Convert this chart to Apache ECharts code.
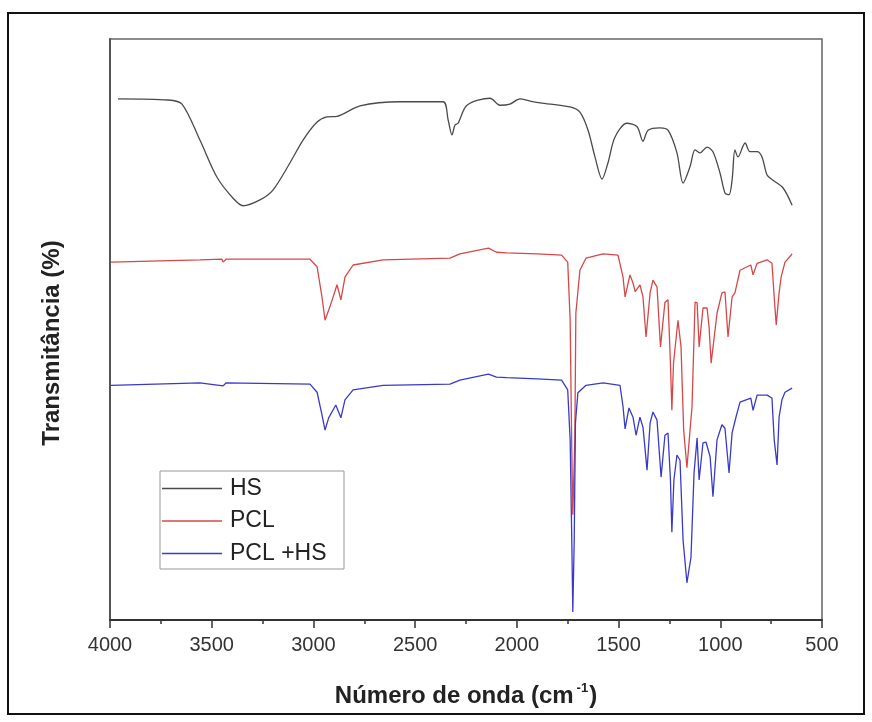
<!DOCTYPE html>
<html>
<head>
<meta charset="utf-8">
<script src="https://cdn.jsdelivr.net/npm/echarts@6/dist/echarts.min.js"></script>
<style>
  html, body { margin: 0; padding: 0; background: #fff; }
  #chart { width: 872px; height: 722px; }
</style>
</head>
<body>
<div id="chart"></div>
<script>
// FTIR spectra, values (arbitrary transmittance scale 0-100)
const hsWavenumber = [3961, 3715, 3646, 3558, 3474, 3395, 3346, 3263, 3199, 3115, 3051, 2982, 2933, 2884, 2771, 2574, 2363, 2338, 2319, 2304, 2289, 2245, 2132, 2083, 2034, 1985, 1935, 1886, 1739, 1690, 1650, 1616, 1581, 1552, 1518, 1459, 1409, 1380, 1355, 1296, 1257, 1213, 1183, 1149, 1124, 1100, 1065, 1036, 1001, 977, 957, 942, 928, 913, 878, 854, 819, 795, 770, 741, 692, 647];
const hsTransmittance = [89.7, 89.5, 88.8, 82.6, 76.2, 72.6, 71.3, 72.3, 74.0, 78.7, 82.6, 85.7, 86.6, 86.7, 88.5, 89.2, 89.2, 86.1, 83.5, 85.2, 85.5, 88.6, 89.8, 88.6, 88.8, 89.7, 89.3, 89.0, 88.3, 87.4, 84.3, 79.7, 75.9, 78.7, 83.1, 85.5, 84.9, 82.4, 84.3, 84.7, 84.3, 80.4, 75.2, 78.0, 80.9, 80.4, 81.4, 80.6, 76.9, 73.5, 73.2, 75.7, 80.9, 79.7, 82.1, 80.6, 80.6, 79.7, 76.6, 75.7, 74.4, 71.4];

const pclWavenumber = [3995, 3558, 3450, 3444, 3430, 3017, 2982, 2958, 2943, 2919, 2884, 2865, 2845, 2805, 2658, 2329, 2280, 2140, 2100, 2050, 1900, 1780, 1750, 1738, 1730, 1725, 1715, 1710, 1690, 1660, 1576, 1503, 1478, 1468, 1444, 1429, 1418, 1395, 1380, 1365, 1345, 1331, 1311, 1294, 1272, 1257, 1245, 1238, 1230, 1208, 1193, 1180, 1164, 1139, 1124, 1114, 1104, 1085, 1065, 1055, 1045, 1016, 992, 977, 962, 942, 928, 903, 850, 839, 819, 770, 746, 735, 725, 711, 701, 682, 647];
const pclTransmittance = [61.6, 62.0, 62.1, 61.6, 62.1, 62.1, 60.8, 55.6, 51.6, 53.9, 57.7, 55.1, 59.0, 61.1, 62.0, 62.3, 63.0, 64.0, 63.3, 63.2, 63.0, 62.8, 61.6, 51.6, 29.3, 18.1, 31.0, 52.8, 60.2, 62.3, 63.0, 62.8, 59.0, 55.6, 59.4, 58.0, 56.5, 57.7, 55.6, 48.7, 56.3, 58.5, 57.3, 47.0, 54.7, 55.1, 44.2, 36.1, 44.2, 51.6, 47.0, 32.7, 26.2, 36.7, 54.7, 54.6, 47.0, 53.7, 53.7, 50.4, 44.2, 52.8, 56.3, 56.5, 48.7, 55.6, 56.3, 60.2, 61.1, 59.4, 61.4, 62.0, 61.4, 55.6, 50.8, 56.3, 59.0, 61.6, 63.0];

const blendWavenumber = [3995, 3558, 3444, 3430, 3017, 2982, 2958, 2943, 2925, 2890, 2865, 2845, 2805, 2658, 2329, 2280, 2140, 2100, 2050, 1900, 1780, 1750, 1738, 1730, 1725, 1718, 1712, 1700, 1660, 1576, 1493, 1478, 1468, 1449, 1429, 1414, 1395, 1380, 1360, 1345, 1331, 1311, 1291, 1272, 1257, 1245, 1238, 1228, 1213, 1198, 1183, 1164, 1144, 1129, 1114, 1104, 1085, 1070, 1050, 1036, 1016, 992, 977, 957, 942, 923, 903, 850, 839, 819, 770, 746, 735, 721, 711, 697, 682, 647];
const blendTransmittance = [40.4, 40.8, 40.3, 40.8, 40.6, 39.2, 35.3, 32.7, 34.8, 37.0, 34.8, 37.9, 39.6, 40.4, 40.6, 41.3, 42.3, 41.8, 41.7, 41.5, 41.3, 39.6, 31.0, 13.8, 1.4, 13.8, 33.9, 39.1, 40.4, 40.8, 40.4, 36.7, 32.9, 36.5, 34.9, 31.8, 34.9, 33.2, 25.8, 33.9, 35.8, 34.4, 24.6, 31.8, 32.2, 24.1, 15.1, 24.1, 28.4, 27.5, 13.8, 6.4, 10.8, 25.3, 31.3, 24.1, 30.5, 30.6, 28.1, 21.2, 31.0, 33.6, 33.0, 25.3, 32.2, 34.9, 37.5, 38.2, 36.1, 38.7, 38.7, 38.2, 31.0, 26.7, 34.9, 37.9, 39.2, 39.9];

const seriesNames = ["HS", "PCL", "PCL +HS"];
const seriesColors = ["#4a4a4a", "#d64848", "#3a3ac8"];

const zip = (xs, ys) => xs.map((x, i) => [x, ys[i]]);
const spectra = [
  zip(hsWavenumber, hsTransmittance),
  zip(pclWavenumber, pclTransmittance),
  zip(blendWavenumber, blendTransmittance),
];

const sans = "'Liberation Sans', Arial, sans-serif";

const option = {
  animation: false,
  grid: {
    left: 110, top: 39, right: 50, bottom: 102,
    show: true, borderColor: "#666", borderWidth: 1.5,
  },
  xAxis: {
    type: "value",
    min: 500, max: 4000, interval: 500,
    inverse: true,
    axisLine: { lineStyle: { color: "#333", width: 2 } },
    axisTick: { inside: false, length: 8, lineStyle: { color: "#333", width: 1.5 } },
    minorTick: { show: true, splitNumber: 2, length: 4, lineStyle: { color: "#333", width: 1.5 } },
    axisLabel: { fontSize: 20, color: "#333", fontFamily: sans, margin: 15, formatter: (v) => String(v) },
    splitLine: { show: false },
    name: "{b|Número de onda (cm}{sup|-1}{b|)}",
    nameLocation: "middle",
    nameGap: 62,
    nameTextStyle: {
      rich: {
        b: { fontSize: 24, fontWeight: "bold", fontFamily: sans, color: "#222", lineHeight: 28 },
        sup: { fontSize: 13, fontWeight: "bold", fontFamily: sans, color: "#222", verticalAlign: "top", padding: [0, 1, 0, 3] },
      },
    },
  },
  yAxis: {
    type: "value",
    min: 0, max: 100,
    axisLine: { show: true, lineStyle: { color: "#555", width: 2 } },
    axisTick: { show: false },
    axisLabel: { show: false },
    splitLine: { show: false },
  },
  legend: {
    orient: "vertical",
    left: 160, top: 471,
    padding: [6, 2, 4, 2],
    icon: "rect",
    itemWidth: 60, itemHeight: 1.5, itemGap: 9.5,
    borderColor: "#999", borderWidth: 1,
    textStyle: { fontSize: 23, fontFamily: sans, color: "#222", width: 112, lineHeight: 23, padding: [0, 0, 0, 3] },
    data: seriesNames,
  },
  graphic: [
    {
      type: "rect",
      shape: { x: 8, y: 13, width: 856, height: 701 },
      style: { fill: "none", stroke: "#111", lineWidth: 2 },
      silent: true,
    },
    {
      type: "text",
      x: 52, y: 343,
      rotation: Math.PI / 2,
      style: {
        text: "Transmitância (%)",
        font: "bold 24px " + sans,
        fill: "#222",
        align: "center",
        verticalAlign: "middle",
      },
    },
  ],
  series: seriesNames.map((name, i) => ({
    name,
    type: "line",
    data: spectra[i],
    symbol: "none",
    smooth: i === 0 ? 0.3 : false,
    color: seriesColors[i],
    lineStyle: { color: seriesColors[i], width: 1.3 },
  })),
};

echarts.init(document.getElementById("chart")).setOption(option);
</script>
</body>
</html>
